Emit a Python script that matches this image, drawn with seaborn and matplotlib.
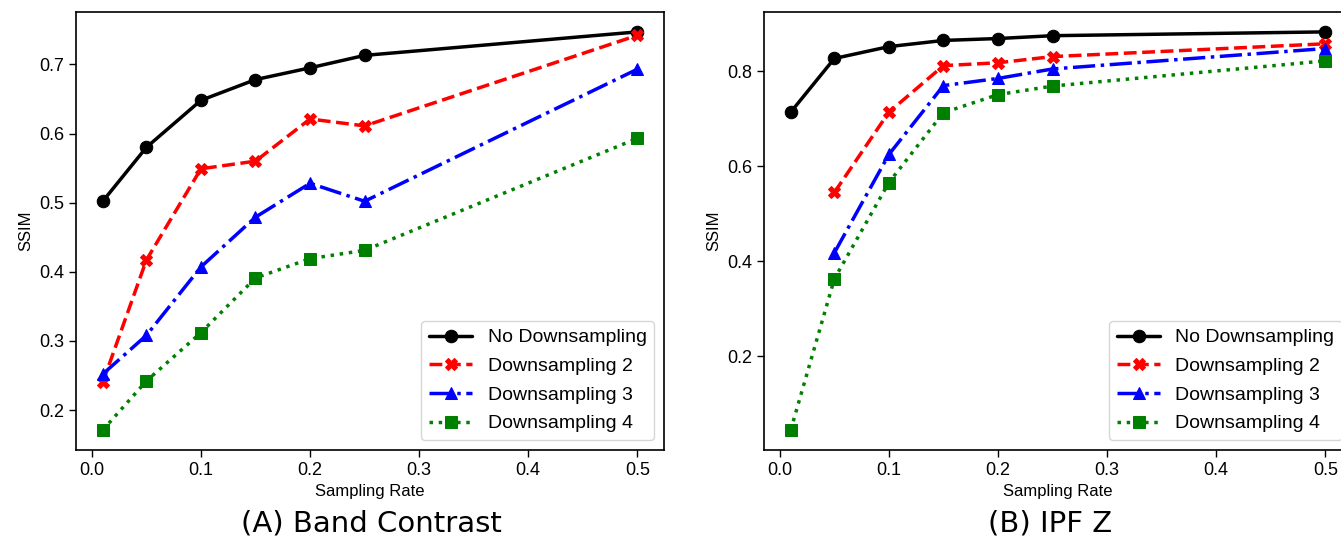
import numpy as np
import pandas as pd
import matplotlib
matplotlib.use("Agg")
import matplotlib.pyplot as plt
import seaborn as sns

# sampling rates on the x axis
rates = [0.01, 0.05, 0.1, 0.15, 0.2, 0.25, 0.5]
series_names = ["No Downsampling", "Downsampling 2", "Downsampling 3", "Downsampling 4"]

# (A) Band Contrast
band_no_ds = [0.502, 0.580, 0.648, 0.678, 0.695, 0.713, 0.747]
band_ds2 = [0.240, 0.417, 0.549, 0.560, 0.621, 0.611, 0.742]
band_ds3 = [0.252, 0.308, 0.407, 0.479, 0.528, 0.502, 0.693]
band_ds4 = [0.171, 0.242, 0.312, 0.391, 0.419, 0.431, 0.593]

# (B) IPF Z  (Downsampling 2 has no value at 0.01)
ipf_no_ds = [0.714, 0.827, 0.852, 0.865, 0.869, 0.875, 0.883]
ipf_ds2 = [np.nan, 0.545, 0.714, 0.812, 0.818, 0.831, 0.858]
ipf_ds3 = [np.nan, 0.418, 0.625, 0.770, 0.785, 0.805, 0.848]
ipf_ds4 = [0.045, 0.363, 0.566, 0.713, 0.751, 0.769, 0.822]

panel_titles = ["(A) Band Contrast", "(B) IPF Z"]

colors = ["black", "red", "blue", "green"]
markers = ["o", "X", "^", "s"]
linestyles = ["-", "--", "-.", ":"]

sns.set_style("ticks")
plt.rcParams["font.family"] = ["Liberation Sans", "DejaVu Sans"]
plt.rcParams["text.color"] = "black"
plt.rcParams["axes.labelcolor"] = "black"

fig = plt.figure(figsize=(13.41, 5.52), dpi=100)
ax1 = fig.add_axes([0.0567, 0.1848, 0.4385, 0.7935])
ax2 = fig.add_axes([0.5697, 0.1848, 0.4385, 0.7935])

panels = [
    (ax1, [band_no_ds, band_ds2, band_ds3, band_ds4]),
    (ax2, [ipf_no_ds, ipf_ds2, ipf_ds3, ipf_ds4]),
]

for ax, values in panels:
    for name, vals, c, m, ls in zip(series_names, values, colors, markers, linestyles):
        df = pd.DataFrame({"rate": rates, "ssim": vals}).dropna()
        sns.lineplot(data=df, x="rate", y="ssim", ax=ax, color=c, marker=m,
                     linestyle=ls, linewidth=2.5, markersize=9,
                     markeredgecolor=c, label=name)
    ax.set_xlabel("Sampling Rate", fontsize=12)
    ax.set_ylabel("SSIM", fontsize=12)
    ax.tick_params(labelsize=13, colors="black", length=5, width=1)
    for s in ax.spines.values():
        s.set_color("black")
        s.set_linewidth(1.2)
    ax.legend(loc="lower right", fontsize=14, handlelength=2.2,
              labelspacing=0.57, borderaxespad=0.5)
    ax.set_xticks([0.0, 0.1, 0.2, 0.3, 0.4, 0.5])

ax1.set_yticks([0.2, 0.3, 0.4, 0.5, 0.6, 0.7])
ax2.set_yticks([0.2, 0.4, 0.6, 0.8])

fig.text(0.277, 0.027, panel_titles[0], ha="center", va="bottom",
         fontsize=21, family="DejaVu Sans")
fig.text(0.783, 0.027, panel_titles[1], ha="center", va="bottom",
         fontsize=21, family="DejaVu Sans")

fig.savefig("out.png", dpi=100)
